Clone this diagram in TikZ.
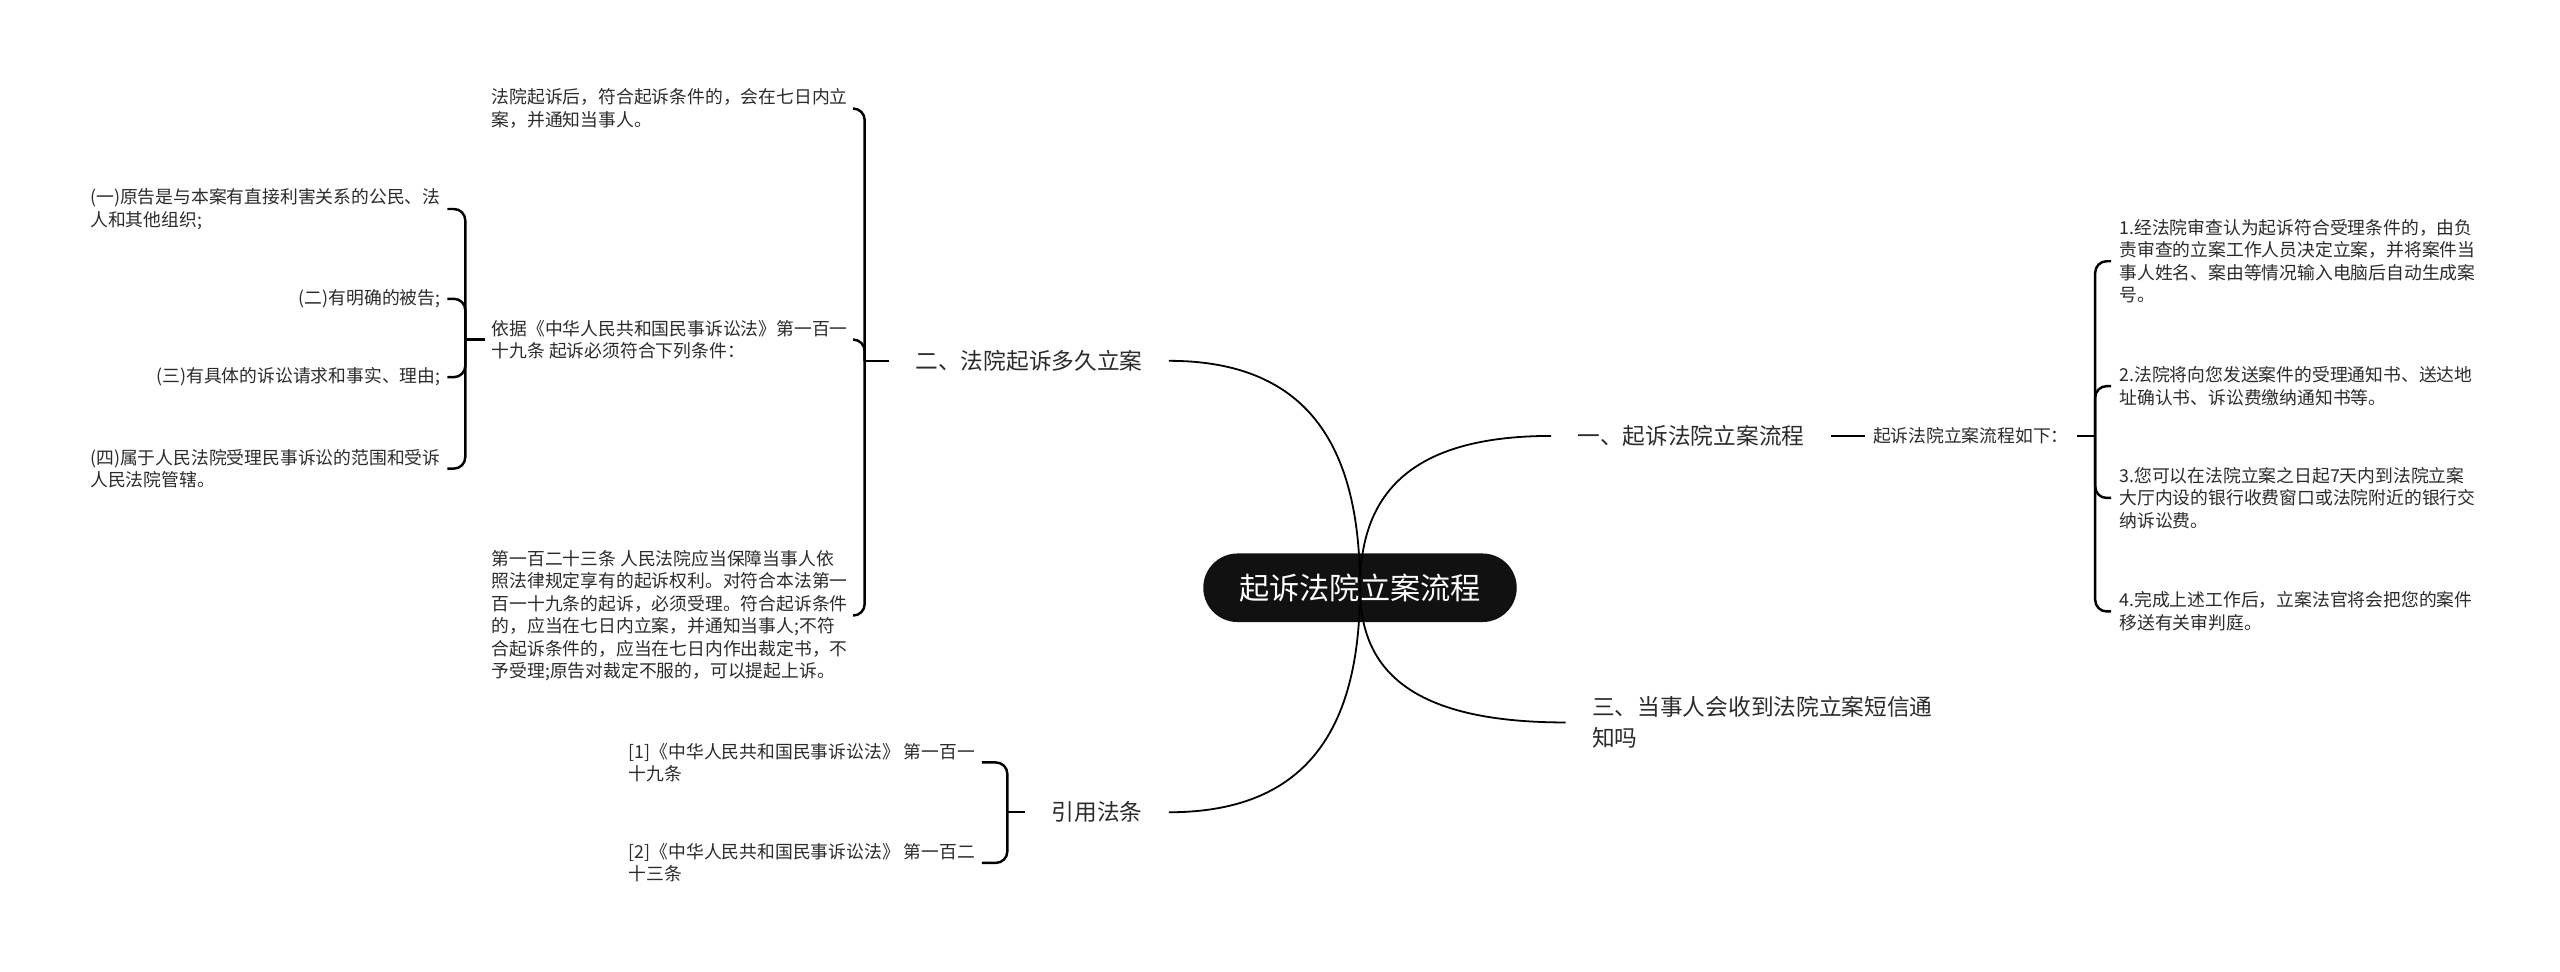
\documentclass[tikz,border=0pt]{standalone}
\usepackage{fontspec}
\setmainfont{Noto Sans CJK SC}
\definecolor{txt}{HTML}{2B2B2B}
\definecolor{rootc}{HTML}{111111}
\begin{document}
\begin{tikzpicture}[x=1pt,y=-1pt,
  body/.style={font=\fontsize{10.9}{13.8}\selectfont, text=txt, inner ysep=0pt, inner xsep=4pt, align=left},
  lvl/.style={font=\fontsize{13.9}{19}\selectfont, text=txt, inner ysep=0pt, inner xsep=16pt, align=left},
  rootbox/.style={fill=rootc, text=white, rounded corners=21pt, minimum width=192pt, minimum height=42pt, inner sep=0pt, font=\fontsize{18.5}{20}\selectfont},
  curve/.style={line width=1.1pt, draw=black},
  brace/.style={line width=1.5pt, draw=black, rounded corners=7pt}]
\useasboundingbox (0,0) rectangle (1568,595);

% root
\node[rootbox] (root) at (833,360) {起诉法院立案流程};

% level 1
\node[lvl, anchor=east] (l2) at (716,221) {二、法院起诉多久立案};
\node[lvl, anchor=west] (l1) at (950,267) {一、起诉法院立案流程};
\node[lvl, anchor=west, inner xsep=25pt] (l3) at (950,442.5) {三、当事人会收到法院立案短信通\\知吗};
\node[lvl, anchor=east] (l4) at (716,497.5) {引用法条};

% children of 二
\node[body, anchor=west] (c21) at (297,66.5) {法院起诉后，符合起诉条件的，会在七日内立\\案，并通知当事人。};
\node[body, anchor=west] (c22) at (297,208) {依据《中华人民共和国民事诉讼法》第一百一\\十九条 起诉必须符合下列条件：};
\node[body, anchor=west] (c23) at (297,377) {第一百二十三条 人民法院应当保障当事人依\\照法律规定享有的起诉权利。对符合本法第一\\百一十九条的起诉，必须受理。符合起诉条件\\的，应当在七日内立案，并通知当事人;不符\\合起诉条件的，应当在七日内作出裁定书，不\\予受理;原告对裁定不服的，可以提起上诉。};

% children of c22
\node[body, anchor=east] (c31) at (274,128) {(一)原告是与本案有直接利害关系的公民、法\\人和其他组织;};
\node[body, anchor=east] (c32) at (274,183) {(二)有明确的被告;};
\node[body, anchor=east] (c33) at (274,231) {(三)有具体的诉讼请求和事实、理由;};
\node[body, anchor=east] (c34) at (274,287) {(四)属于人民法院受理民事诉讼的范围和受诉\\人民法院管辖。};

% children of 引用法条
\node[body, anchor=west] (c41) at (381,467) {[1]《中华人民共和国民事诉讼法》 第一百一\\十九条};
\node[body, anchor=west] (c42) at (381,528.5) {[2]《中华人民共和国民事诉讼法》 第一百二\\十三条};

% children of 一
\node[body, anchor=west, inner xsep=5pt] (d1) at (1142,267) {起诉法院立案流程如下：};
\node[body, anchor=west, inner xsep=5pt] (e1) at (1293,160) {1.经法院审查认为起诉符合受理条件的，由负\\责审查的立案工作人员决定立案，并将案件当\\事人姓名、案由等情况输入电脑后自动生成案\\号。};
\node[body, anchor=west, inner xsep=5pt] (e2) at (1293,236.5) {2.法院将向您发送案件的受理通知书、送达地\\址确认书、诉讼费缴纳通知书等。};
\node[body, anchor=west, inner xsep=5pt] (e3) at (1293,305) {3.您可以在法院立案之日起7天内到法院立案\\大厅内设的银行收费窗口或法院附近的银行交\\纳诉讼费。};
\node[body, anchor=west, inner xsep=5pt] (e4) at (1293,374.5) {4.完成上述工作后，立案法官将会把您的案件\\移送有关审判庭。};

% bracket spines
\coordinate (b2) at ([xshift=-15pt]l2.west);
\coordinate (b3) at ([xshift=-12pt]c22.west);
\coordinate (b4) at ([xshift=-11pt]l4.west);
\coordinate (b1) at ([xshift=11pt]d1.east);

% brackets
\draw[brace] (l2.west) -- (b2);
\draw[brace] (b2) |- (c21.east);
\draw[brace] (b2) |- (c22.east);
\draw[brace] (b2) |- (c23.east);

\draw[brace] (c22.west) -- (b3);
\draw[brace] (b3) |- (c31.east);
\draw[brace] (b3) |- (c32.east);
\draw[brace] (b3) |- (c33.east);
\draw[brace] (b3) |- (c34.east);

\draw[brace] (l4.west) -- (b4);
\draw[brace] (b4) |- (c41.east);
\draw[brace] (b4) |- (c42.east);

\draw[brace] (l1.east) -- (d1.west);
\draw[brace] (d1.east) -- (b1);
\draw[brace] (b1) |- (e1.west);
\draw[brace] (b1) |- (e2.west);
\draw[brace] (b1) |- (e3.west);
\draw[brace] (b1) |- (e4.west);

% main curves (drawn over the root, as in the reference)
\draw[curve] (root.center) .. controls (833,277) and (804,221) .. (l2.east);
\draw[curve] (root.center) .. controls (833,304) and (862,267) .. (l1.west);
\draw[curve] (root.center) .. controls (833,409) and (862,442.5) .. ([xshift=9pt]l3.west);
\draw[curve] (root.center) .. controls (833,442) and (804,497.5) .. (l4.east);
\end{tikzpicture}
\end{document}
